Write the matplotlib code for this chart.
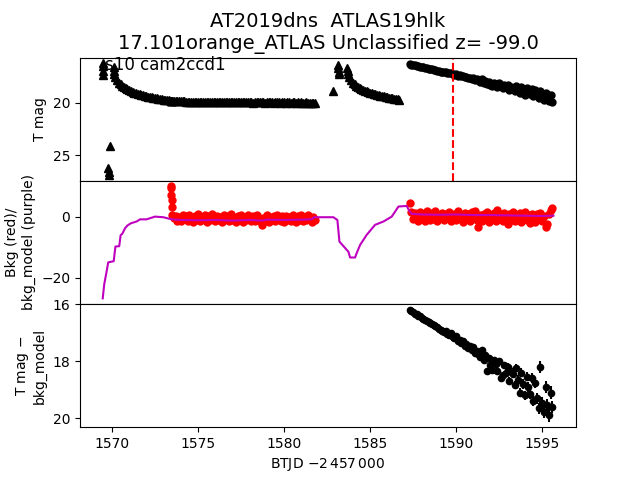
import numpy as np
import matplotlib
matplotlib.use("Agg")
from matplotlib import pyplot as plt

# 標題與標籤
title = "AT2019dns  ATLAS19hlk\n17.101orange_ATLAS Unclassified z= -99.0"
ccd_label = "s10 cam2ccd1"
t_marker = 1589.83

# 第一段開頭（三角形）：時間與星等
t_tri1 = [1569.45, 1569.46, 1569.47, 1569.48, 1569.79, 1569.80, 1569.81, 1569.88,
          1570.10, 1570.12, 1570.14,
          1570.2, 1570.3, 1570.4, 1570.5, 1570.6, 1570.7, 1570.8, 1570.9, 1571.0, 1571.1,
          1571.2, 1571.3, 1571.4, 1571.5, 1571.6, 1571.7, 1571.8, 1571.9, 1572.0, 1572.1,
          1572.2, 1572.3, 1572.4, 1572.5, 1572.6, 1572.7, 1572.8, 1572.9, 1573.0, 1573.1,
          1573.2, 1573.3]
m_tri1 = [16.2, 16.5, 16.9, 17.3, 26.2, 26.6, 26.9, 24.1,
          16.6, 16.9, 17.2,
          17.5, 17.8, 18.05, 18.2, 18.35, 18.5, 18.6, 18.7, 18.8, 18.88,
          18.95, 19.01, 19.07, 19.12, 19.17, 19.22, 19.27, 19.31, 19.36, 19.40,
          19.43, 19.47, 19.50, 19.54, 19.57, 19.60, 19.63, 19.65, 19.68, 19.70,
          19.72, 19.74]

# 第一軌道後段時間（與背景共用）
t_orb1 = [1573.40, 1573.42, 1573.44, 1573.46, 1573.48,
          1573.5, 1573.6, 1573.7, 1573.8, 1573.9, 1574.0, 1574.1, 1574.2, 1574.3, 1574.4,
          1574.5, 1574.6, 1574.7, 1574.8, 1574.9, 1575.0, 1575.1, 1575.2, 1575.3, 1575.4,
          1575.5, 1575.6, 1575.7, 1575.8, 1575.9, 1576.0, 1576.1, 1576.2, 1576.3, 1576.4,
          1576.5, 1576.6, 1576.7, 1576.8, 1576.9, 1577.0, 1577.1, 1577.2, 1577.3, 1577.4,
          1577.5, 1577.6, 1577.7, 1577.8, 1577.9, 1578.0, 1578.1, 1578.2, 1578.3, 1578.4,
          1578.5, 1578.6, 1578.7, 1578.8, 1578.9, 1579.0, 1579.1, 1579.2, 1579.3, 1579.4,
          1579.5, 1579.6, 1579.7, 1579.8, 1579.9, 1580.0, 1580.1, 1580.2, 1580.3, 1580.4,
          1580.5, 1580.6, 1580.7, 1580.8, 1580.9, 1581.0, 1581.1, 1581.2, 1581.3, 1581.4,
          1581.5, 1581.6, 1581.7, 1581.8]
m_orb1 = [19.77, 19.78, 19.77, 19.79, 19.78,
          19.79, 19.80, 19.81, 19.82, 19.83, 19.84, 19.84, 19.85, 19.86, 19.86,
          19.87, 19.88, 19.87, 19.89, 19.88, 19.90, 19.89, 19.91, 19.90, 19.89,
          19.91, 19.90, 19.92, 19.90, 19.91, 19.93, 19.90, 19.92, 19.91, 19.93,
          19.92, 19.90, 19.94, 19.91, 19.93, 19.92, 19.95, 19.91, 19.93, 19.92,
          19.94, 19.90, 19.93, 19.95, 19.92, 19.94, 19.91, 19.96, 19.93, 19.92,
          19.95, 19.93, 19.91, 19.94, 19.96, 19.92, 19.95, 19.93, 19.94, 19.97,
          19.93, 19.95, 19.92, 19.96, 19.94, 19.93, 19.97, 19.95, 19.94, 19.96,
          19.95, 19.93, 19.97, 19.95, 19.96, 19.94, 19.98, 19.96, 19.95, 19.97,
          19.96, 19.98, 19.97, 19.99]

# 第二段（三角形）
t_tri2 = [1582.87, 1583.14, 1583.16, 1583.18, 1583.20, 1583.68, 1583.70, 1583.72,
          1583.8, 1583.9, 1584.0, 1584.1, 1584.2, 1584.3, 1584.4, 1584.5, 1584.6, 1584.7,
          1584.8, 1584.9, 1585.0, 1585.1, 1585.2, 1585.3, 1585.4, 1585.5, 1585.6, 1585.7,
          1585.8, 1585.9, 1586.0, 1586.1, 1586.2, 1586.3, 1586.4, 1586.5, 1586.6, 1586.7]
m_tri2 = [18.86, 16.4, 16.7, 17.0, 17.25, 16.7, 16.95, 17.2,
          17.5, 17.8, 18.05, 18.22, 18.36, 18.48, 18.58, 18.67, 18.75, 18.82,
          18.88, 18.94, 19.0, 19.05, 19.1, 19.15, 19.2, 19.25, 19.3, 19.34,
          19.37, 19.41, 19.45, 19.49, 19.52, 19.55, 19.58, 19.62, 19.65, 19.72]

# 第二軌道時間
t_orb2 = [1587.3, 1587.4, 1587.5, 1587.6, 1587.7, 1587.8, 1587.9, 1588.0, 1588.1, 1588.2,
          1588.3, 1588.4, 1588.5, 1588.6, 1588.7, 1588.8, 1588.9, 1589.0, 1589.1, 1589.2,
          1589.3, 1589.4, 1589.5, 1589.6, 1589.7, 1589.8, 1589.9, 1590.0, 1590.1, 1590.2,
          1590.3, 1590.4, 1590.5, 1590.6, 1590.7, 1590.8, 1590.9, 1591.0, 1591.1, 1591.2,
          1591.3, 1591.4, 1591.5, 1591.6, 1591.7, 1591.8, 1591.9, 1592.0, 1592.1, 1592.2,
          1592.3, 1592.4, 1592.5, 1592.6, 1592.7, 1592.8, 1592.9, 1593.0, 1593.1, 1593.2,
          1593.3, 1593.4, 1593.5, 1593.6, 1593.7, 1593.8, 1593.9, 1594.0, 1594.1, 1594.2,
          1594.3, 1594.4, 1594.5, 1594.6, 1594.7, 1594.8, 1594.9, 1595.0, 1595.1, 1595.2,
          1595.3, 1595.4, 1595.5, 1595.6]
m_orb2 = [16.30, 16.33, 16.38, 16.40, 16.45, 16.47, 16.53, 16.55, 16.60, 16.63,
          16.67, 16.72, 16.74, 16.80, 16.82, 16.86, 16.91, 16.93, 17.00, 17.01,
          17.08, 17.02, 17.15, 17.18, 17.12, 17.25, 17.30, 17.22, 17.38, 17.35,
          17.45, 17.40, 17.55, 17.48, 17.62, 17.58, 17.70, 17.60, 17.80, 17.72,
          17.85, 17.95, 17.70, 18.05, 17.90, 18.15, 17.95, 18.25, 18.40, 18.05,
          18.20, 18.45, 18.10, 18.35, 18.60, 18.25, 18.50, 18.30, 18.75, 18.45,
          18.55, 18.90, 18.35, 18.70, 19.05, 18.50, 18.85, 19.20, 18.60, 18.95,
          19.10, 18.70, 19.35, 18.80, 19.25, 19.55, 18.90, 19.40, 19.70, 19.00,
          19.50, 19.85, 19.20, 19.95]

# 背景（紅）
b_orb1 = [10.0, 9.4, 7.3, 5.5, 3.3,
          0.6, -0.5, 0.3, -1.2, -0.1, -1.5, 0.5, -0.8, 0.2, -1.4,
          0.7, -0.6, -1.6, 0.2, -0.9, 0.8, -1.5, 0.0, -0.6, 0.5,
          -1.6, 0.3, -1.0, 0.8, -0.5, -1.5, 0.4, -1.1, -0.1, -1.7,
          0.6, -0.7, 0.2, -1.4, 0.9, -1.0, -0.3, -1.6, 0.4, -0.8,
          0.7, -1.7, 0.1, -1.1, 0.5, -0.5, -1.5, 0.3, -1.2, 0.6,
          -0.8, -1.5, -2.6, -0.3, -1.3, 0.7, -1.6, -0.1, -0.9, 0.4,
          -1.5, 0.6, -0.6, -1.2, 0.2, -1.7, 0.4, -1.0, 0.0, -1.4,
          0.5, -0.7, -1.6, 0.3, -1.1, 0.5, -1.5, -0.1, -0.9, 0.7,
          -0.5, -1.6, 0.1, -1.0]
b_orb2 = [4.5, 1.5, -0.8, 1.2, 0.3, -1.2, 1.6, -0.4, 0.9, -1.3,
          1.8, 0.0, -1.0, 1.3, -0.6, 2.0, -1.4, 0.5, -0.2, 1.4,
          -1.1, 0.8, -0.5, 1.7, -1.5, 0.4, 1.1, -0.9, 1.9, -0.3,
          0.6, -1.6, 1.2, -0.7, 0.9, -1.2, 1.5, -0.1, 2.1, -1.0,
          -3.3, 0.7, -1.4, 1.0, -0.4, 1.6, -1.7, 0.3, -0.8, 1.3,
          -1.2, 2.3, -0.6, 0.8, -1.5, 1.4, -0.2, -2.3, 1.0, -0.9,
          1.7, -1.3, 0.5, -0.5, 1.2, -1.8, 0.2, 1.5, -1.0, 0.6,
          -2.0, 1.1, -0.3, -1.6, 0.9, -0.7, 1.3, -1.2, 0.4, -3.3,
          -2.2, 0.8, 2.4, 2.8]

# 背景模型（紫）
t_model = [1569.46, 1569.55, 1569.65, 1569.78, 1570.1, 1570.15, 1570.2, 1570.42, 1570.5,
           1570.6, 1570.76, 1570.9, 1571.09, 1571.43, 1571.63, 1572.0, 1572.5, 1572.98,
           1573.47, 1574.0, 1575.0, 1576.0, 1577.0, 1578.0, 1578.7, 1579.0, 1580.0, 1581.0,
           1581.6, 1581.75, 1582.87, 1583.1, 1583.22, 1583.74, 1583.84, 1584.13, 1584.22,
           1584.42, 1584.8, 1585.29, 1585.78, 1586.26, 1586.45, 1586.65, 1587.13, 1587.28,
           1587.42, 1588.0, 1589.0, 1590.0, 1591.0, 1592.0, 1593.0, 1594.0, 1595.0, 1595.66]
b_model = [-26.7, -22.0, -19.0, -14.9, -14.5, -12.0, -9.7, -9.6, -6.0,
           -5.5, -3.7, -2.8, -2.1, -1.5, -0.8, -0.8, 0.1, -0.1,
           -0.8, -1.0, -1.1, -1.0, -1.2, -1.0, -1.2, -0.9, -1.0, -0.9,
           -0.8, -0.1, -0.1, -1.0, -8.1, -11.4, -13.3, -13.3, -11.9,
           -9.2, -5.9, -2.6, -1.5, 0.1, 1.7, 3.4, 3.6, 2.0,
           1.0, 0.8, 0.7, 0.8, 0.6, 0.6, 0.5, 0.4, 0.3, 0.4]

# 扣除背景模型後的星等與誤差
m_diff = [16.21, 16.25, 16.28, 16.33, 16.35, 16.40, 16.42, 16.47, 16.52, 16.55,
          16.58, 16.63, 16.66, 16.70, 16.74, 16.78, 16.80, 16.86, 16.90, 16.93,
          16.98, 16.95, 17.05, 17.08, 17.02, 17.15, 17.20, 17.13, 17.28, 17.25,
          17.35, 17.30, 17.45, 17.38, 17.52, 17.48, 17.62, 17.50, 17.70, 17.65,
          17.75, 17.85, 17.62, 17.95, 17.80, 18.35, 17.90, 18.15, 18.30, 17.95,
          18.10, 18.35, 18.00, 18.60, 18.50, 18.15, 18.40, 18.20, 18.70, 18.35,
          18.45, 18.85, 18.25, 18.65, 19.10, 18.40, 18.80, 19.20, 18.55, 18.90,
          19.15, 18.60, 19.40, 18.75, 19.30, 19.65, 18.20, 19.45, 19.80, 18.90,
          19.55, 19.90, 19.10, 19.60]
e_diff = [0.02, 0.02, 0.02, 0.02, 0.02, 0.02, 0.02, 0.02, 0.02, 0.02,
          0.02, 0.02, 0.02, 0.03, 0.03, 0.03, 0.03, 0.03, 0.03, 0.03,
          0.04, 0.04, 0.04, 0.04, 0.04, 0.04, 0.05, 0.05, 0.05, 0.05,
          0.05, 0.05, 0.06, 0.06, 0.06, 0.06, 0.06, 0.07, 0.07, 0.07,
          0.08, 0.08, 0.08, 0.08, 0.09, 0.09, 0.09, 0.09, 0.10, 0.10,
          0.10, 0.10, 0.11, 0.11, 0.11, 0.12, 0.12, 0.12, 0.13, 0.13,
          0.14, 0.14, 0.14, 0.15, 0.15, 0.15, 0.16, 0.16, 0.16, 0.17,
          0.17, 0.18, 0.18, 0.18, 0.19, 0.19, 0.20, 0.20, 0.20, 0.21,
          0.21, 0.22, 0.22, 0.22]

fig, ax = plt.subplots(3, 1, sharex=True, figsize=(6.4, 4.8))
plt.subplots_adjust(hspace=0)

# 上圖
ax[0].plot(t_tri1, m_tri1, 'k^', ms=6)
ax[0].plot(t_orb1, m_orb1, 'k^', ms=6)
ax[0].plot(t_tri2, m_tri2, 'k^', ms=6)
ax[0].plot(t_orb2, m_orb2, 'ko', ms=5)
ax[0].axvline(t_marker, color='r', ls='--', lw=1.5)
ax[0].invert_yaxis()
ax[0].set_ylabel('T mag')
ax[0].text(0.05, 0.9, ccd_label, transform=ax[0].transAxes, fontsize=12, zorder=1)
ax[0].set_title(title, fontsize=14)

# 中圖
ax[1].plot(t_orb1, b_orb1, 'ro', ms=5)
ax[1].plot(t_orb2, b_orb2, 'ro', ms=5)
ax[1].plot(t_model, b_model, 'm-')
ax[1].set_ylabel('Bkg (red)/\nbkg_model (purple)')

# 下圖
ax[2].errorbar(t_orb2, m_diff, yerr=e_diff, fmt='ko', ms=4.5)
ax[2].invert_yaxis()
ax[2].set_ylabel('T mag $-$\nbkg_model')
ax[2].set_xlabel(r'BTJD $-2\,457\,000$')

plt.savefig('out.png', dpi=100)
